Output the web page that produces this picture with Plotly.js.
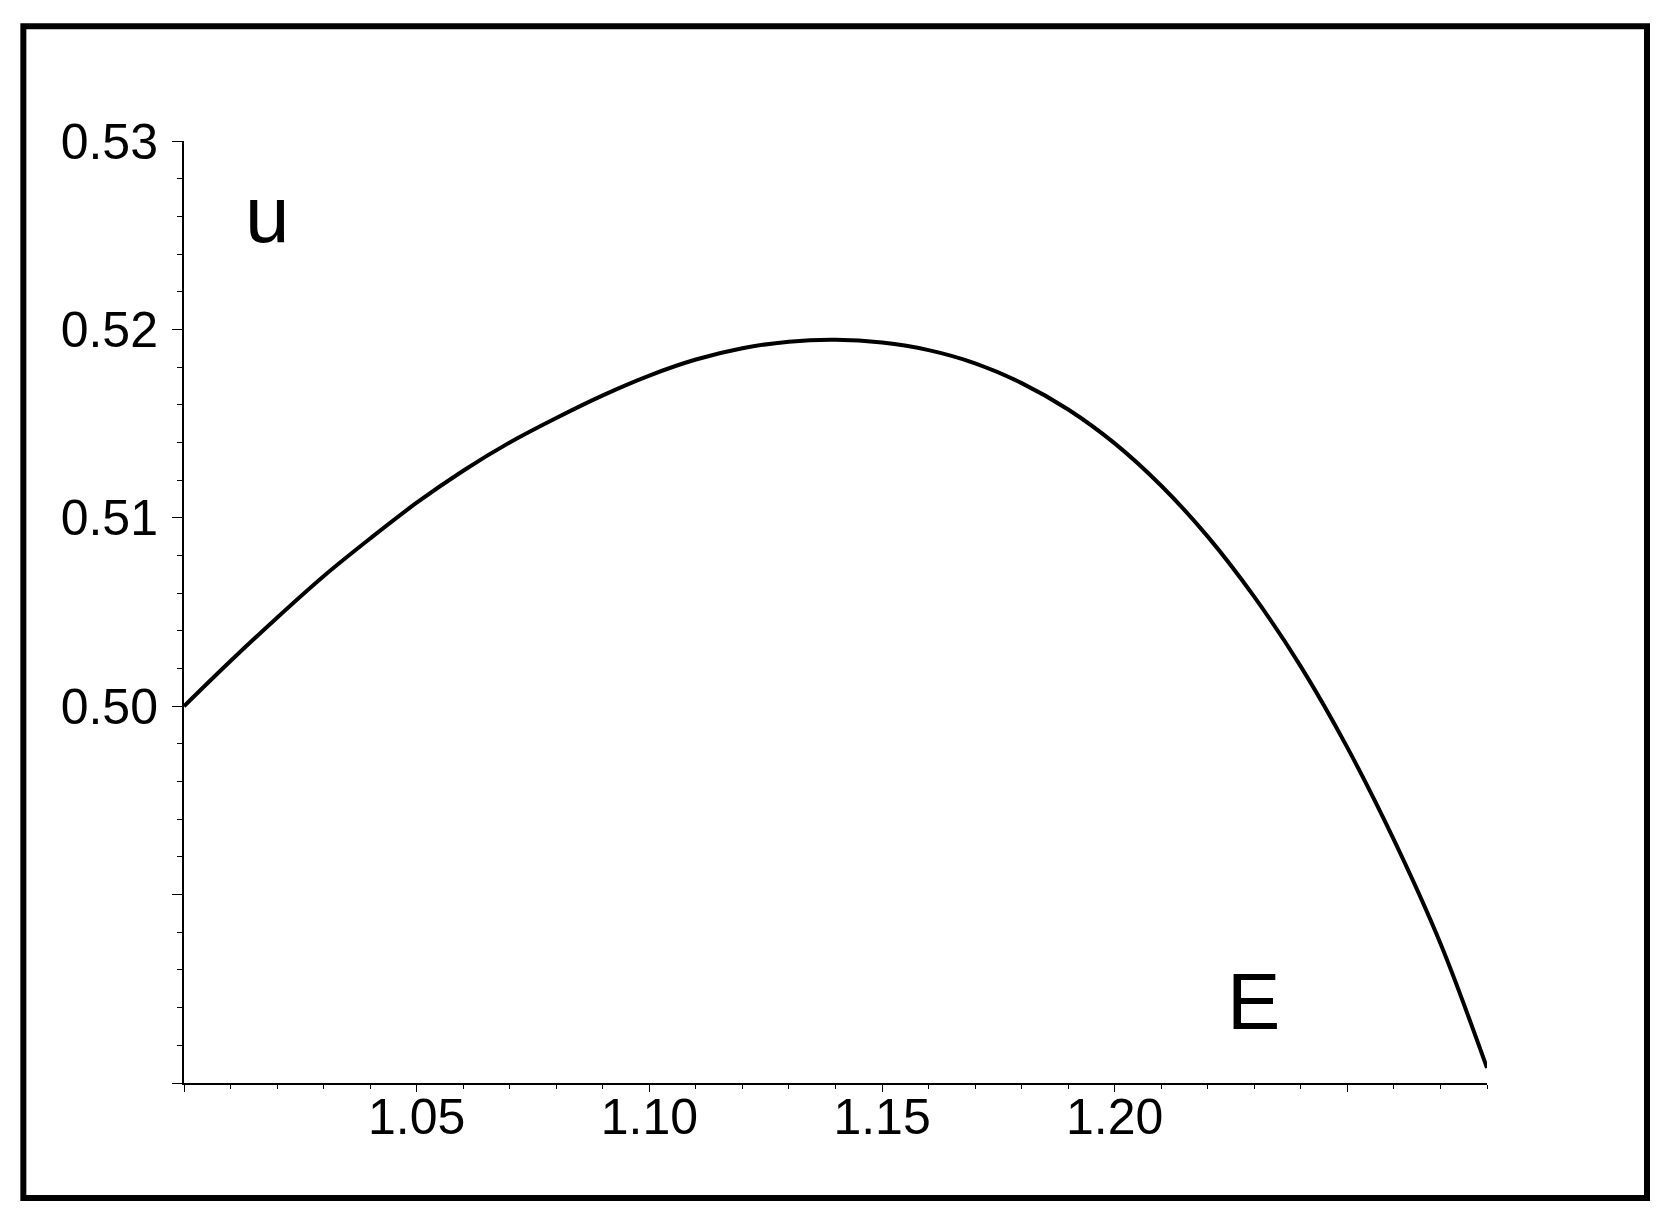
<!DOCTYPE html>
<html>
<head>
<meta charset="utf-8">
<script src="https://cdn.plot.ly/plotly-3.0.1.min.js"></script>
<style>html,body{margin:0;padding:0;background:#fff;}#chart{width:1670px;height:1222px;}</style>
</head>
<body>
<div id="chart"></div>
<script>
const E = [1.000, 1.010, 1.020, 1.030, 1.040, 1.050, 1.060, 1.070, 1.080, 1.090,
           1.100, 1.110, 1.120, 1.130, 1.140, 1.150, 1.160, 1.170, 1.180, 1.190,
           1.200, 1.210, 1.220, 1.230, 1.240, 1.250, 1.260, 1.270, 1.280];
const u = [0.50000, 0.50240, 0.50470, 0.50690, 0.50890, 0.51080, 0.51250, 0.51400, 0.51530, 0.51650,
           0.51755, 0.51840, 0.51900, 0.51935, 0.51945, 0.51930, 0.51890, 0.51820, 0.51715, 0.51575,
           0.51395, 0.51170, 0.50900, 0.50580, 0.50210, 0.49780, 0.49290, 0.48740, 0.48080];

const xTickVals = [1.00, 1.05, 1.10, 1.15, 1.20, 1.25];
const xTickText = ['', '1.05', '1.10', '1.15', '1.20', ''];
const yTickVals = [0.48, 0.49, 0.50, 0.51, 0.52, 0.53];
const yTickText = ['', '', '0.50', '0.51', '0.52', '0.53'];

const FONT = '"Liberation Sans", Arial, Helvetica, sans-serif';

const trace = {
  x: E, y: u, type: 'scatter', mode: 'lines',
  line: {color: '#000', width: 4, shape: 'spline', smoothing: 1},
  hoverinfo: 'skip', showlegend: false
};

const layout = {
  width: 1670, height: 1222,
  margin: {l: 184, r: 183, t: 141, b: 139},
  paper_bgcolor: '#fff', plot_bgcolor: '#fff',
  showlegend: false,
  font: {family: FONT, color: '#000'},
  xaxis: {
    range: [1.0, 1.28], showgrid: false, zeroline: false,
    showline: true, linecolor: '#000', linewidth: 2,
    ticks: 'outside', ticklen: 7, tickwidth: 1, tickcolor: '#000',
    tickmode: 'array', tickvals: xTickVals, ticktext: xTickText,
    ticklabelstandoff: -18,
    tickfont: {family: FONT, size: 50, color: '#000'},
    minor: {tickmode: 'linear', tick0: 1.0, dtick: 0.01, ticks: 'outside', ticklen: 4, tickwidth: 1, tickcolor: '#000', showgrid: false}
  },
  yaxis: {
    range: [0.48, 0.53], showgrid: false, zeroline: false,
    showline: true, linecolor: '#000', linewidth: 2,
    ticks: 'outside', ticklen: 10, tickwidth: 1, tickcolor: '#000',
    tickmode: 'array', tickvals: yTickVals, ticktext: yTickText,
    ticklabelstandoff: 4,
    tickfont: {family: FONT, size: 50, color: '#000'},
    minor: {tickmode: 'linear', tick0: 0.48, dtick: 0.002, ticks: 'outside', ticklen: 5, tickwidth: 1, tickcolor: '#000', showgrid: false}
  },
  annotations: [
    {text: 'u', xref: 'x', yref: 'y', x: 1.0179, y: 0.5261, showarrow: false,
     font: {family: FONT, size: 80, color: '#000'}},
    {text: 'E', xref: 'x', yref: 'y', x: 1.2299, y: 0.4843, showarrow: false,
     font: {family: FONT, size: 80, color: '#000'}}
  ],
  shapes: [
    {type: 'rect', xref: 'paper', yref: 'paper', x0: -0.1233, x1: 1.1228, y0: -0.1221, y1: 1.1218,
     line: {color: '#000', width: 6}, fillcolor: 'rgba(0,0,0,0)', layer: 'above'}
  ]
};

Plotly.newPlot('chart', [trace], layout, {displayModeBar: false, staticPlot: true});
</script>
</body>
</html>
